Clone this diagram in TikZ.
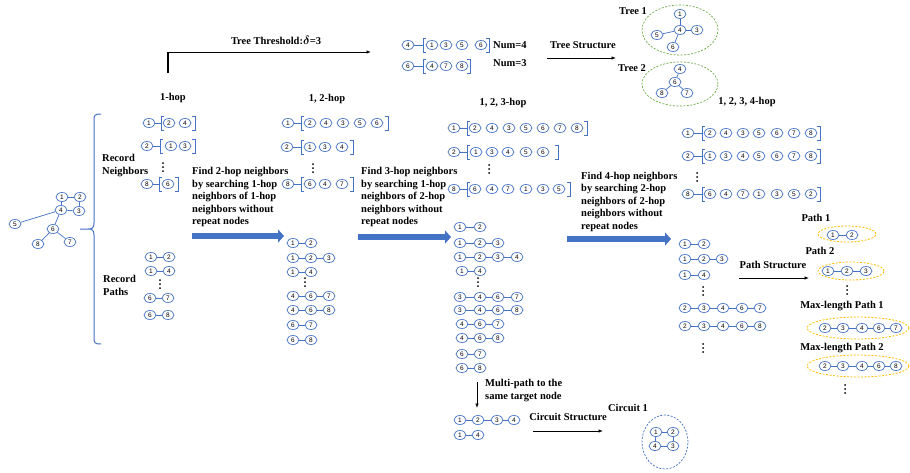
\documentclass[tikz,border=0pt]{standalone}
\usepackage{fontspec}
\setmainfont{Liberation Serif}
\newfontfamily\digitfont{Liberation Sans}
\usetikzlibrary{arrows.meta,shapes.geometric}
\definecolor{nblue}{HTML}{4472C4}
\definecolor{tgreen}{HTML}{70AD47}
\definecolor{porange}{HTML}{FFC000}
\tikzset{
  nd/.style={draw=nblue, fill=white, ellipse, line width=0.7pt, minimum width=12pt, minimum height=9pt, inner sep=0pt, font=\digitfont\fontsize{6.5}{7}\selectfont},
  ed/.style={draw=nblue, line width=0.7pt},
  brk/.style={draw=nblue, line width=0.7pt},
  lbl/.style={inner sep=0pt, font=\bfseries\fontsize{10.5}{12.5}\selectfont},
  para/.style={lbl, align=left, anchor=north west},
  garr/.style={line width=0.8pt, -{Latex[length=4.5pt,width=3.5pt]}},
  bigarr/.style={draw=nblue, line width=5.5pt, -{Triangle[length=6pt,width=13pt]}},
  tell/.style={draw=tgreen, ellipse, line width=0.7pt, dash pattern=on 2pt off 1.5pt, inner sep=0pt},
  pell/.style={draw=porange, ellipse, line width=0.8pt, dash pattern=on 2pt off 1.5pt, inner sep=0pt},
  cell/.style={draw=nblue, ellipse, line width=0.7pt, dash pattern=on 2pt off 1.5pt, inner sep=0pt},
}
\newcommand\nbrl[7]{%
  \node[nd] (#1h) at (#3,#2) {#4};
  \coordinate (#1l) at (#5,#2);
  \draw[ed] (#1h) -- (#1l);
  \draw[brk] (#5+3,#2-7) -- (#5,#2-7) -- (#5,#2+7) -- (#5+3,#2+7);
  \draw[brk] (#6-3,#2-7) -- (#6,#2-7) -- (#6,#2+7) -- (#6-3,#2+7);
  \foreach \xx/\ll [count=\ii] in {#7} {\node[nd] (#1m\ii) at (\xx,#2) {\ll};}%
}
\newcommand\chain[3]{%
  \foreach \xx/\ll [count=\ii] in {#3} {%
    \node[nd] (#1-\ii) at (\xx,#2) {\ll};
    \ifnum\ii>1 \pgfmathtruncatemacro\jj{\ii-1}\draw[ed] (#1-\jj) -- (#1-\ii);\fi
  }%
}
\newcommand\vdts[2]{\fill (#1,#2-4) circle (1pt) (#1,#2) circle (1pt) (#1,#2+4) circle (1pt);}
\begin{document}
\begin{tikzpicture}[x=1pt,y=-1pt]
\useasboundingbox (0,0) rectangle (910,472);
\fill[white] (0,0) rectangle (910,472);

% ---------- left graph ----------
\node[nd] (g1) at (62,197) {1};
\node[nd] (g2) at (80,197) {2};
\node[nd] (g4) at (61,210) {4};
\node[nd] (g3) at (79,211) {3};
\node[nd] (g5) at (15,224) {5};
\node[nd] (g6) at (53,229) {6};
\node[nd] (g8) at (38,244) {8};
\node[nd] (g7) at (70,242) {7};
\foreach \a/\b in {g1/g2,g2/g3,g3/g4,g1/g4,g4/g5,g4/g6,g6/g8,g6/g7} \draw[ed] (\a) -- (\b);

% brace
\draw[nblue, line width=1pt] (101,114) .. controls (95,114) and (94,115) .. (94,120) -- (94,223)
  .. controls (94,228) and (92,229) .. (88,229) -- (80,229)
  (88,229) .. controls (92,229) and (94,230) .. (94,235) -- (94,338)
  .. controls (94,343) and (95,344) .. (101,344);

% ---------- column 1 ----------
\node[lbl] (h1) at (173,98) {1-hop};
\node[para, align=left] (rn) at (102,154) {Record\\[0.5pt]Neighbors};
\nbrl{a}{123}{149}{1}{161}{195}{169/2,185/4}
\nbrl{b}{146}{147}{2}{160}{195}{171/1,185/3}
\vdts{163}{167}
\nbrl{c}{184}{147}{8}{159}{178}{168/6}
\node[para] (rp) at (103,275) {Record\\[0.5pt]Paths};
\chain{pa}{257}{151/1,169/2}
\chain{pb}{271}{151/1,169/4}
\vdts{160}{284}
\chain{pc}{298}{150/6,168/7}
\chain{pd}{315}{150/6,168/8}

\node[para] (f1) at (192,167.5) {Find 2-hop neighbors\\by searching 1-hop\\neighbors of 1-hop\\neighbors without\\repeat nodes};
\coordinate (ba1) at (192,236); \coordinate (bb1) at (284,236);
\draw[bigarr] (ba1) -- (bb1);

% ---------- top: tree threshold ----------
\node[lbl] (thr) at (276,40) {Tree Threshold:{\fontsize{13}{13}\selectfont\boldmath$\delta$}=3};
\coordinate (th0) at (168,73); \coordinate (th1) at (168,52); \coordinate (th2) at (371,52);
\draw[line width=1.6pt] (th0) -- ([yshift=0.4pt]th1);
\draw[garr] (th1) -- (th2);
\nbrl{ta}{45}{408}{4}{423}{489}{432/1,446/3,462/5,481/6}
\nbrl{tb}{66}{408}{6}{423}{470}{432/4,446/7,462/8}
\node[lbl, anchor=west] (n4) at (493,45) {Num=4};
\node[lbl, anchor=west] (n3) at (493,63) {Num=3};
\node[lbl] (tstr) at (583,45) {Tree Structure};
\coordinate (ts0) at (547,58); \coordinate (ts1) at (616,58);
\draw[garr] (ts0) -- (ts1);
\node[lbl] (tr1) at (633,11) {Tree 1};
\node[lbl] (tr2) at (632,68) {Tree 2};
\node[tell, minimum width=76pt, minimum height=50pt] (te1) at (680,30) {};
\node[tell, minimum width=76pt, minimum height=44pt] (te2) at (680,84) {};
\node[nd] (ua1) at (680,14) {1};
\node[nd] (ua4) at (680,30) {4};
\node[nd] (ua3) at (697,30) {3};
\node[nd] (ua5) at (657,35) {5};
\node[nd] (ua6) at (673,47) {6};
\foreach \b in {ua1,ua3,ua5,ua6} \draw[ed] (ua4) -- (\b);
\node[nd] (ub4) at (680,69) {4};
\node[nd] (ub6) at (675,82) {6};
\node[nd] (ub8) at (662,93) {8};
\node[nd] (ub7) at (687,93) {7};
\foreach \b in {ub4,ub8,ub7} \draw[ed] (ub6) -- (\b);

% ---------- column 2 ----------
\node[lbl] (h2) at (327,99) {1, 2-hop};
\nbrl{d}{123}{288}{1}{301}{388}{310/2,326/4,343/3,360/5,377/6}
\nbrl{e}{147}{287}{2}{301}{353}{310/1,325/3,342/4}
\vdts{313}{168}
\nbrl{f}{184}{288}{8}{301}{353}{310/6,325/4,342/7}
\chain{p2a}{243}{293/1,311/2}
\chain{p2b}{258}{293/1,311/2,329/3}
\chain{p2c}{272}{293/1,311/4}
\vdts{305}{282}
\chain{p2d}{296}{293/4,311/6,329/7}
\chain{p2e}{310}{293/4,311/6,329/8}
\chain{p2f}{325}{293/6,311/7}
\chain{p2g}{340}{293/6,311/8}

\node[para] (f2) at (361,167.5) {Find 3-hop neighbors\\by searching 1-hop\\neighbors of 2-hop\\neighbors without\\repeat nodes};
\coordinate (ba2) at (358,237); \coordinate (bb2) at (451,237);
\draw[bigarr] (ba2) -- (bb2);

% ---------- column 3 ----------
\node[lbl] (h3) at (503,103) {1, 2, 3-hop};
\nbrl{g}{128}{454}{1}{467}{587}{475/2,492/4,509/3,526/5,543/6,560/7,577/8}
\nbrl{h}{152}{454}{2}{467}{558}{476/1,492/3,508/4,526/5,543/6}
\vdts{489}{169}
\nbrl{i}{189}{454}{8}{467}{570}{475/6,492/4,508/7,526/1,543/3,559/5}
\chain{p3a}{227}{460/1,480/2}
\chain{p3b}{243}{460/1,480/2,498/3}
\chain{p3c}{257}{460/1,480/2,498/3,517/4}
\chain{p3d}{271}{462/1,480/4}
\vdts{478}{282}
\chain{p3e}{297}{460/3,480/4,498/6,517/7}
\chain{p3f}{310}{460/3,480/4,498/6,517/8}
\chain{p3g}{324}{462/4,480/6,498/7}
\chain{p3h}{338}{462/4,480/6,498/8}
\chain{p3i}{354}{462/6,480/7}
\chain{p3j}{368}{462/6,480/8}

\coordinate (da) at (477,382); \coordinate (db) at (477,408);
\draw[garr] (da) -- (db);
\node[para] (mp) at (485,379) {Multi-path to the\\[0.5pt]same target node};
\chain{m1}{420}{460/1,478/2,497/3,514/4}
\chain{m2}{435}{460/1,478/4}
\node[lbl] (cstr) at (568,417) {Circuit Structure};
\coordinate (cs0) at (533,431); \coordinate (cs1) at (603,431);
\draw[garr] (cs0) -- (cs1);
\node[lbl] (c1) at (628,408) {Circuit 1};
\node[cell, minimum width=46pt, minimum height=54pt] (ce) at (665,442) {};
\node[nd] (uc1) at (656,432) {1};
\node[nd] (uc2) at (673,432) {2};
\node[nd] (uc4) at (655,446) {4};
\node[nd] (uc3) at (673,446) {3};
\foreach \a/\b in {uc1/uc2,uc2/uc3,uc3/uc4,uc4/uc1} \draw[ed] (\a) -- (\b);

% ---------- column 4 ----------
\node[para] (f3) at (581,172) {Find 4-hop neighbors\\by searching 2-hop\\neighbors of 2-hop\\neighbors without\\repeat nodes};
\coordinate (ba3) at (567,239); \coordinate (bb3) at (671,239);
\draw[bigarr] (ba3) -- (bb3);
\node[lbl] (h4) at (747,102) {1, 2, 3, 4-hop};
\nbrl{j}{133}{688}{1}{702}{820}{710/2,726/4,743/3,759/5,777/6,794/7,811/8}
\nbrl{k}{156}{688}{2}{702}{820}{710/1,726/3,743/4,759/5,777/6,794/7,811/8}
\vdts{697}{177}
\nbrl{l}{194}{688}{8}{702}{820}{710/6,726/4,743/7,759/1,777/3,794/5,811/2}
\chain{p4a}{244}{685/1,704/2}
\chain{p4b}{259}{685/1,704/2,722/3}
\chain{p4c}{275}{685/1,704/4}
\vdts{703}{291}
\chain{p4d}{308}{685/2,704/3,723/4,742/6,760/7}
\chain{p4e}{326}{685/2,704/3,723/4,742/6,760/8}
\vdts{703}{348}

\node[lbl] (pstr) at (773,265) {Path Structure};
\coordinate (ps0) at (739,278); \coordinate (ps1) at (809,278);
\draw[garr] (ps0) -- (ps1);

% ---------- right: paths ----------
\node[lbl] (pl1) at (816,218) {Path 1};
\node[pell, minimum width=58pt, minimum height=16pt] (pe1) at (847,234) {};
\chain{q1}{235}{833/1,852/2}
\node[lbl] (pl2) at (820,251) {Path 2};
\node[pell, minimum width=66pt, minimum height=18pt] (pe2) at (851,271) {};
\chain{q2}{271}{828/1,847/2,866/3}
\vdts{847}{290}
\node[lbl] (pl3) at (842,306) {Max-length Path 1};
\node[pell, minimum width=102pt, minimum height=22pt] (pe3) at (858,328) {};
\chain{q3}{328}{825/2,843/3,862/4,879/6,896/7}
\node[lbl] (pl4) at (842,348) {Max-length Path 2};
\node[pell, minimum width=102pt, minimum height=22pt] (pe4) at (858,366) {};
\chain{q4}{366}{825/2,843/3,862/4,879/6,896/8}
\vdts{845}{389}
\end{tikzpicture}
\end{document}
